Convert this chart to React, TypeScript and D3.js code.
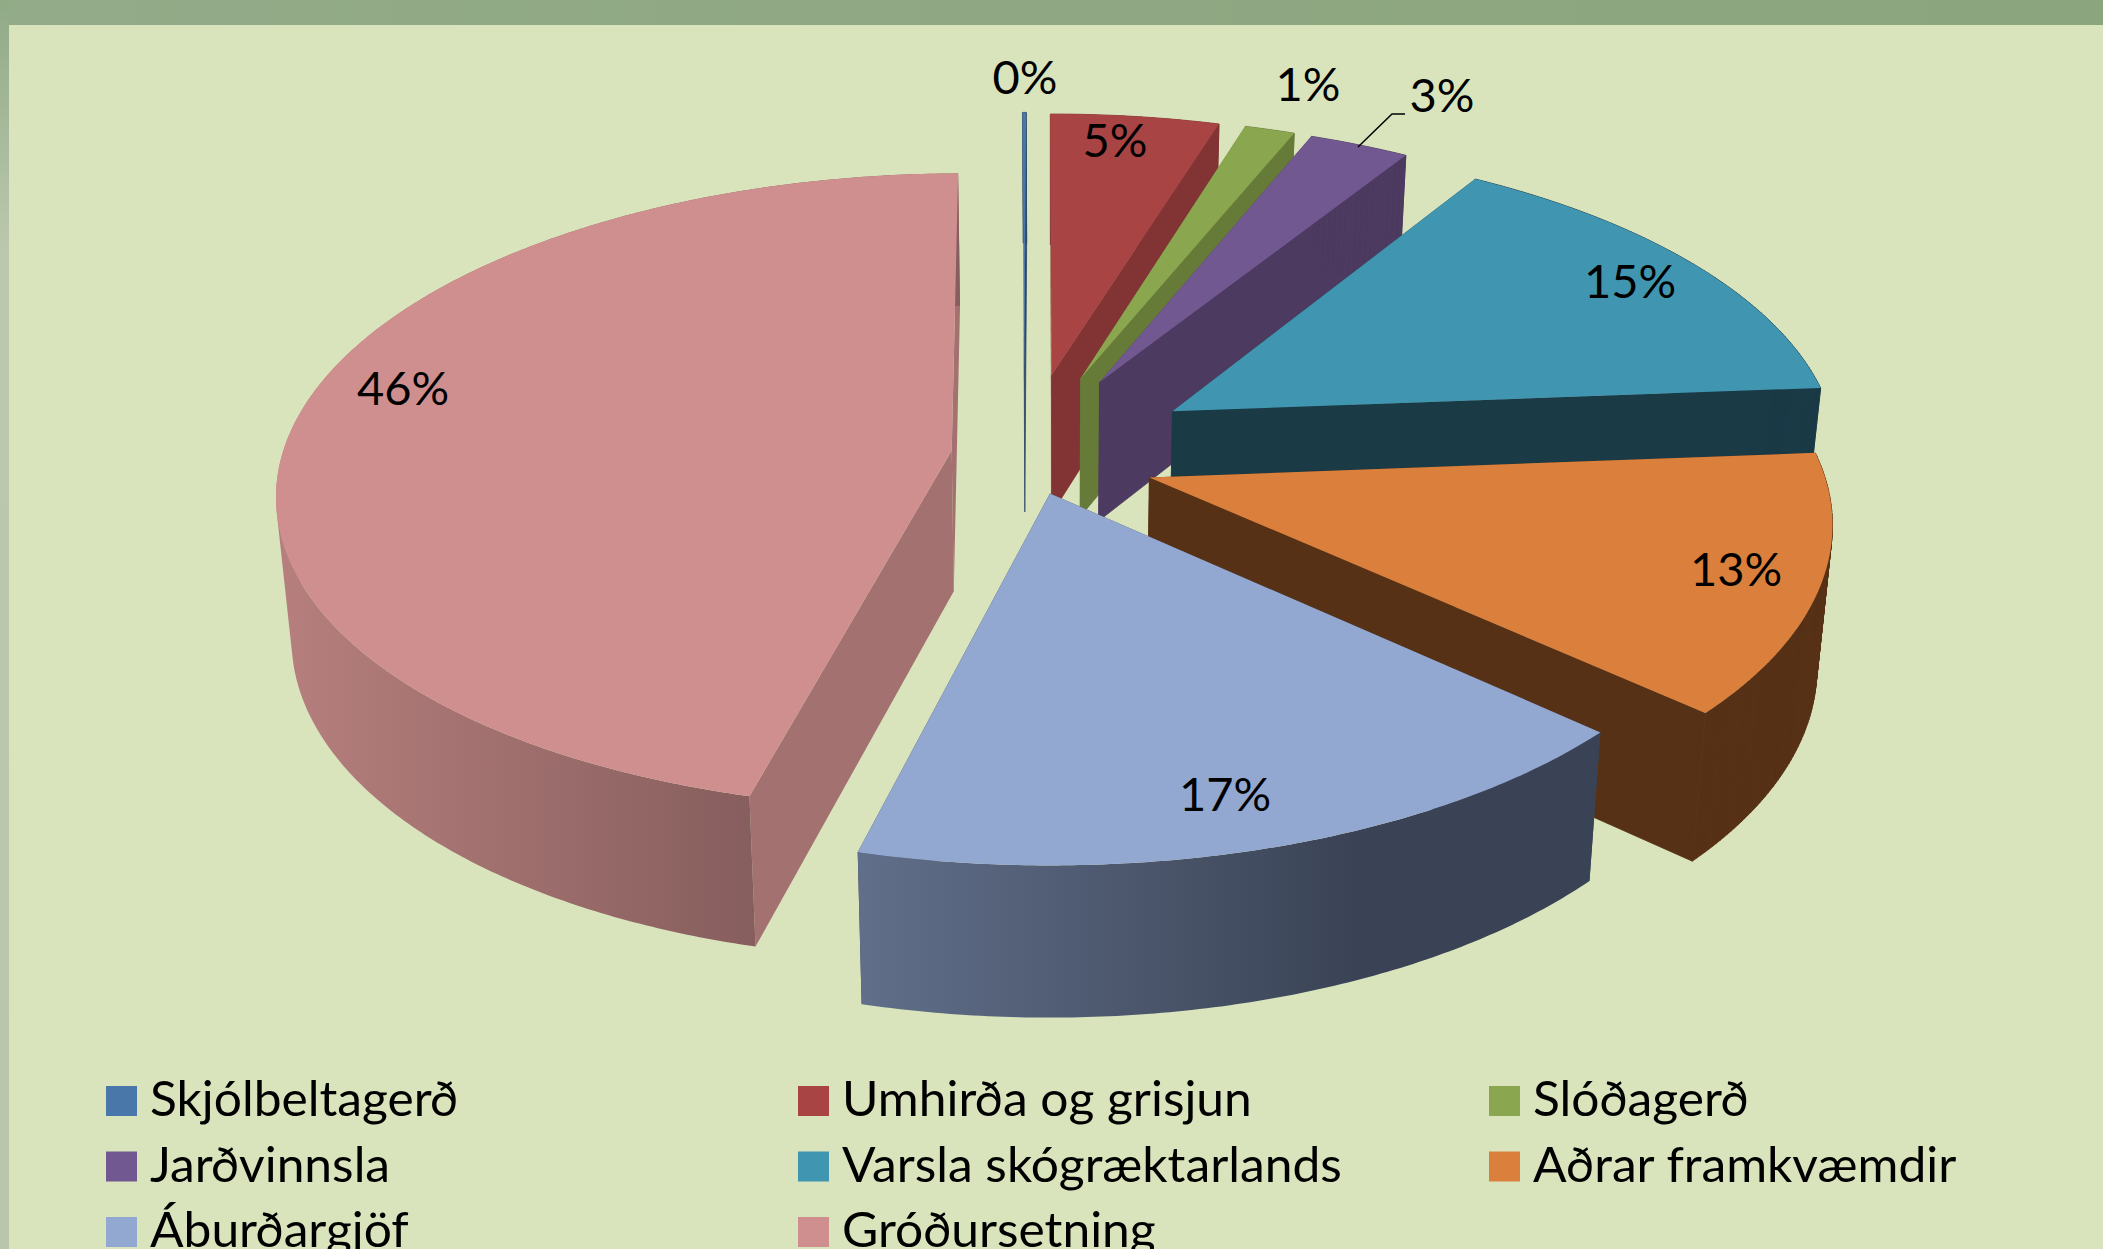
import React from 'react';
import * as d3 from 'd3';

// chart values (one decimal, labels round them)
const categories = ['Skjólbeltagerð', 'Umhirða og grisjun', 'Slóðagerð', 'Jarðvinnsla', 'Varsla skógræktarlands', 'Aðrar framkvæmdir', 'Áburðargjöf', 'Gróðursetning'];
const shares = [0.1, 4.7, 1.4, 2.8, 14.9, 13, 17.2, 45.9];

const topColors = ['#4a77aa', '#a94444', '#8aa64f', '#715890', '#4096b0', '#da803c', '#93a8d0', '#d08f8f'];
const sideColors = ['#2d4766', '#823434', '#677b38', '#4d3a60', '#1a3a46', '#573116', '#3a4355', '#a37170'];

// how far each slice was pulled out, in units of the pie radius
const explodeU = [-0.046, -0.004, 0.041, 0.07, 0.18, 0.141, -0.006, -0.153];
const explodeV = [0.285, 0.278, 0.268, 0.255, 0.158, -0.055, -0.105, 0.03];

// data label centres / baselines, placed by hand in the original too
const labelX = [1025, 1115, 1308, 1442, 1630, 1736, 1225, 403];
const labelY = [94, 157, 101, 112, 298, 586, 811, 405];

const WIDTH = 2103;
const HEIGHT = 1249;

const cx = 1054;
const cy = 460;
const rx = 671;
const ry = 315;
const persp = 0.128;
const wallH = 141;
const taper = 0.02;
const firstAngle = (-0.5 * Math.PI) / 180;

const project = (u: number, v: number, z: number): [number, number] => {
  const s = 1 / (1 + persp * v);
  return [cx + rx * u * s * (1 - taper * z), cy - ry * v * s + wallH * Math.sqrt(s) * z];
};

const arcs = d3.pie<number>().sort(null).value(d => d).startAngle(firstAngle).endAngle(firstAngle + 2 * Math.PI)(shares);
const line = d3.line();

const rimPoint = (i: number, a: number, z: number) =>
  project(explodeU[i] + Math.sin(a), explodeV[i] + Math.cos(a), z);

const sampleAngles = (a0: number, a1: number) => {
  const n = Math.max(2, Math.ceil((a1 - a0) / 0.01));
  return d3.range(n + 1).map(k => a0 + ((a1 - a0) * k) / n);
};

const topPath = (i: number) => {
  const { startAngle, endAngle } = arcs[i];
  const rim = sampleAngles(startAngle, endAngle).map(a => rimPoint(i, a, 0));
  return line([project(explodeU[i], explodeV[i], 0), ...rim]) + 'Z';
};

// the outer wall is a strip of small quads, hull keeps them all wound the same way
const wallPath = (i: number) => {
  const { startAngle, endAngle } = arcs[i];
  const angles = sampleAngles(startAngle, endAngle);
  return d3.pairs(angles)
    .map(([a, b]) => {
      const hull = d3.polygonHull([rimPoint(i, a, 0), rimPoint(i, b, 0), rimPoint(i, b, 1), rimPoint(i, a, 1)]);
      return hull ? line(hull) + 'Z' : '';
    })
    .join('');
};

const cutPath = (i: number, a: number) =>
  line([
    project(explodeU[i], explodeV[i], 0),
    rimPoint(i, a, 0),
    rimPoint(i, a, 1),
    project(explodeU[i], explodeV[i], 1),
  ]) + 'Z';

const legendX = d3.scaleOrdinal<number, number>().domain([0, 1, 2]).range([106, 798, 1489]);
const legendY = d3.scaleLinear().domain([0, 1]).range([1116, 1181.5]);

export default function App() {
  return (
    <svg width={WIDTH} height={HEIGHT} style={{ position: 'absolute', left: 0, top: 0, display: 'block' }} fontFamily="Lato, sans-serif">
      <defs>
        <linearGradient id="frameTop" x1="0" x2="1" y1="0" y2="0">
          <stop offset="0" stopColor="#93ab88" />
          <stop offset="1" stopColor="#8ba57e" />
        </linearGradient>
        <linearGradient id="frameLeft" x1="0" x2="0" y1="0" y2="1">
          <stop offset="0" stopColor="#90aa86" />
          <stop offset="0.2" stopColor="#bcc8ad" />
          <stop offset="1" stopColor="#b9c6ab" />
        </linearGradient>
        <linearGradient id="wall6" gradientUnits="userSpaceOnUse" x1="855" x2="1360" y1="0" y2="0">
          <stop offset="0" stopColor="#616f8a" />
          <stop offset="1" stopColor="#3a4355" />
        </linearGradient>
        <linearGradient id="wall7" gradientUnits="userSpaceOnUse" x1="280" x2="756" y1="0" y2="0">
          <stop offset="0" stopColor="#b67f7d" />
          <stop offset="1" stopColor="#865e5d" />
        </linearGradient>
      </defs>

      <rect width={WIDTH} height={HEIGHT} fill="#d9e4bd" />
      <rect width={WIDTH} height={25} fill="url(#frameTop)" />
      <rect width={9} height={HEIGHT} fill="url(#frameLeft)" />

      {arcs.map((_, i) => {
        // same-colour hairline closes the seam between cut face and wall
        const seam = i < 6 ? sideColors[i] : 'none';
        return (
          <g key={categories[i]}>
            <path d={cutPath(i, arcs[i].startAngle)} fill={sideColors[i]} />
            <path d={cutPath(i, arcs[i].endAngle)} fill={sideColors[i]} stroke={seam} strokeWidth={0.8} />
            <path d={wallPath(i)} fill={i >= 6 ? `url(#wall${i})` : sideColors[i]} stroke={seam} strokeWidth={0.8} />
            <path d={topPath(i)} fill={topColors[i]} />
          </g>
        );
      })}

      {/* leader line of the 3% label */}
      <path d="M1358,147L1392,114H1405" fill="none" stroke="#000" strokeWidth={1.5} />

      {shares.map((v, i) => (
        <text key={i} x={labelX[i]} y={labelY[i]} textAnchor="middle" fontSize={47} fill="#000">
          {Math.round(v)}%
        </text>
      ))}

      {categories.map((name, i) => {
        const col = i % 3;
        const row = Math.floor(i / 3);
        return (
          <g key={name} transform={`translate(${legendX(col)},${legendY(row)})`}>
            <rect x={0} y={-30} width={31} height={30} fill={topColors[i]} />
            <text x={0} y={0} fontSize={48} fill="#000" transform="translate(44,0) scale(1.036,1)">{name}</text>
          </g>
        );
      })}
    </svg>
  );
}
